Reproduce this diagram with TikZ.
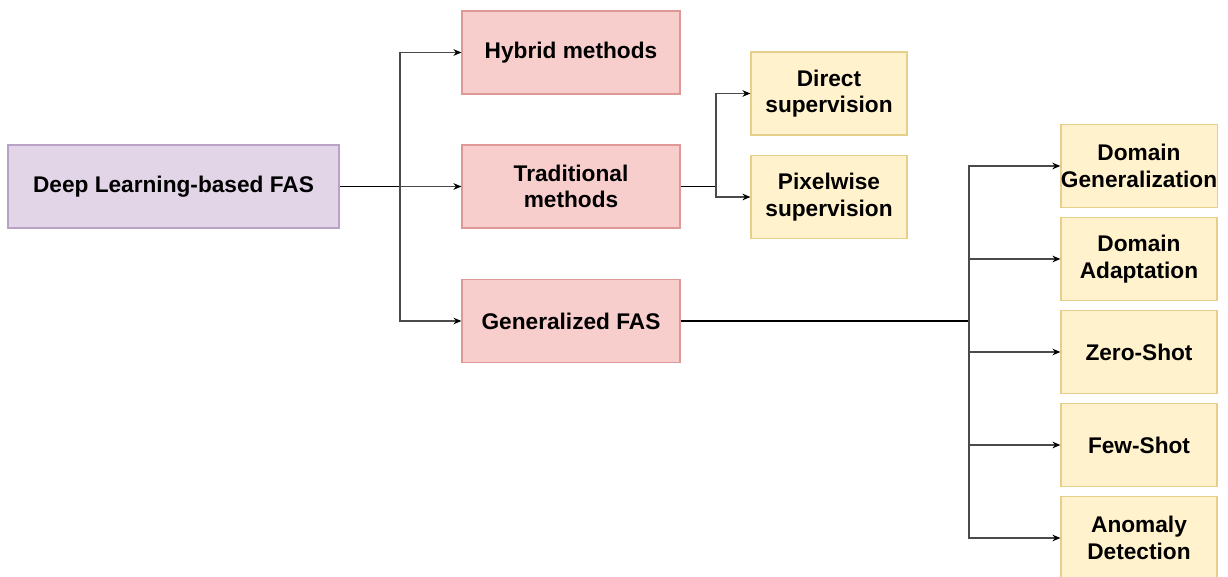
\documentclass[tikz,border=0pt]{standalone}
\usepackage{fontspec}
\setmainfont{Liberation Sans}
\usetikzlibrary{arrows.meta}
\definecolor{rootfill}{HTML}{E1D5E7}
\definecolor{rootline}{HTML}{B9A2C6}
\definecolor{midfill}{HTML}{F8CECC}
\definecolor{midline}{HTML}{DE9996}
\definecolor{leaffill}{HTML}{FFF2CC}
\definecolor{leafline}{HTML}{E6CF8A}
\definecolor{branchgray}{HTML}{4A4A4A}
\begin{document}
\begin{tikzpicture}[x=0.75pt,y=-0.75pt,
  box/.style={draw, line width=0.9pt, minimum height=83*0.75pt, align=center,
    font=\bfseries\fontsize{17}{19.8}\selectfont, inner sep=0pt},
  rootbox/.style={box, fill=rootfill, draw=rootline, minimum width=331*0.75pt},
  midbox/.style={box, fill=midfill, draw=midline, minimum width=218*0.75pt},
  leafbox/.style={box, fill=leaffill, draw=leafline, minimum width=156*0.75pt},
  trunk/.style={line width=1.2pt, black},
  branch/.style={line width=0.9pt, branchgray, -{Stealth[length=6pt,width=5pt,color=black]}}]
\useasboundingbox (0,0) rectangle (1228,577);

% boxes
\node[rootbox] (dl) at (173.5,186.5) {Deep Learning-based FAS};
\node[midbox] (hyb) at (571,52.5) {Hybrid methods};
\node[midbox] (trad) at (571,186.5) {Traditional\\methods};
\node[midbox] (gen) at (571,321) {Generalized FAS};
\node[leafbox] (dir) at (829,93.5) {Direct\\supervision};
\node[leafbox] (pix) at (829,197) {Pixelwise\\supervision};
\node[leafbox] (dg) at (1139,166) {Domain\\Generalization};
\node[leafbox] (da) at (1139,259) {Domain\\Adaptation};
\node[leafbox] (zs) at (1139,352) {Zero-Shot};
\node[leafbox] (fs) at (1139,445) {Few-Shot};
\node[leafbox] (ad) at (1139,538) {Anomaly\\Detection};

% junction points
\coordinate (j1) at (400,186.5);
\coordinate (j2) at (716,186.5);
\coordinate (j3) at (969,321);

% root to first level
\draw[trunk] (dl.east) -- (j1);
\draw[branch] (j1) |- (hyb.west);
\draw[branch] (j1) -- (trad.west);
\draw[branch] (j1) |- (gen.west);

% traditional methods
\draw[trunk] (trad.east) -- (j2);
\draw[branch] (j2) |- (dir.west);
\draw[branch] (j2) |- (pix.west);

% generalized FAS
\draw[trunk] (gen.east) -- (j3);
\draw[branch] (j3) |- (dg.west);
\draw[branch] (j3) |- (da.west);
\draw[branch] (j3) |- (zs.west);
\draw[branch] (j3) |- (fs.west);
\draw[branch] (j3) |- (ad.west);
\end{tikzpicture}
\end{document}
